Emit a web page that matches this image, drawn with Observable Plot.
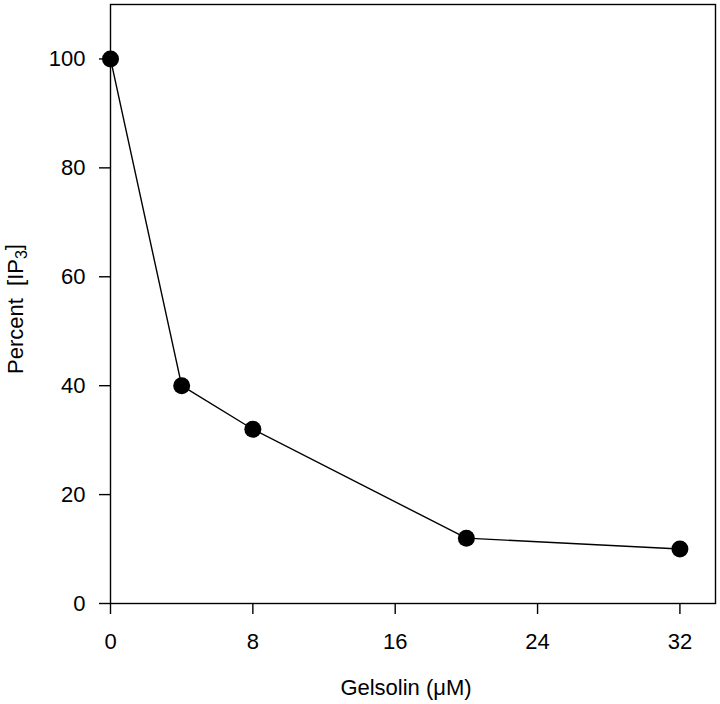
<!DOCTYPE html>
<html>
<head>
<meta charset="utf-8">
<script src="https://cdn.jsdelivr.net/npm/d3@7"></script>
<script src="https://cdn.jsdelivr.net/npm/@observablehq/plot@0.6"></script>
<style>
  html, body { margin: 0; padding: 0; background: #fff; }
  svg { font-family: "Liberation Sans", Arial, sans-serif; }
</style>
</head>
<body>
<div id="chart"></div>
<script>
const gelsolin = [0, 4, 8, 20, 32];
const percentIP3 = [100, 40, 32, 12, 10];
const xTicks = [0, 8, 16, 24, 32];
const yTicks = [0, 20, 40, 60, 80, 100];
const xLabel = "Gelsolin (μM)";
const yLabel = "Percent  [IP₃]";

const data = gelsolin.map((g, i) => ({x: g, y: percentIP3[i]}));

const chart = Plot.plot({
  width: 720,
  height: 704,
  marginLeft: 110,
  marginRight: 5,
  marginTop: 4,
  marginBottom: 101,
  style: {fontFamily: "'Liberation Sans', Arial, sans-serif", fontSize: "22px", color: "#000", background: "#fff"},
  x: {domain: [0, 34]},
  y: {domain: [0, 110]},
  marks: [
    Plot.frame({stroke: "#000", strokeWidth: 1.4}),
    Plot.axisX({ticks: xTicks, tickSize: 11, tickPadding: 19, tickFormat: d => String(d),
      label: null, fontSize: 22, strokeWidth: 1.4}),
    Plot.axisY({ticks: yTicks, tickSize: 11, tickPadding: 14, tickFormat: d => String(d),
      label: null, fontSize: 22, strokeWidth: 1.4}),
    Plot.text([xLabel], {text: d => d, frameAnchor: "bottom", dy: 91, dx: -7, lineAnchor: "bottom", fontSize: 22, fill: "#000"}),
    Plot.text([yLabel], {text: d => d, frameAnchor: "left", textAnchor: "middle", rotate: -90, dx: -88, dy: 5, lineAnchor: "bottom", fontSize: 22, fill: "#000"}),
    Plot.line(data, {x: "x", y: "y", stroke: "#000", strokeWidth: 1.4}),
    Plot.dot(data, {x: "x", y: "y", r: 8.5, fill: "#000", stroke: "none"})
  ]
});
document.getElementById("chart").appendChild(chart);

// render the subscript as a true lowered "3"
d3.select(chart).selectAll("text").filter(function() { return this.textContent === yLabel; })
  .each(function() {
    const t = d3.select(this);
    const parts = yLabel.split("₃");
    t.text(null);
    t.append("tspan").text(parts[0]);
    t.append("tspan").attr("dy", "0.3em").attr("font-size", "16px").text("3");
    t.append("tspan").attr("dy", "-0.3em").text(parts[1]);
  });
</script>
</body>
</html>
